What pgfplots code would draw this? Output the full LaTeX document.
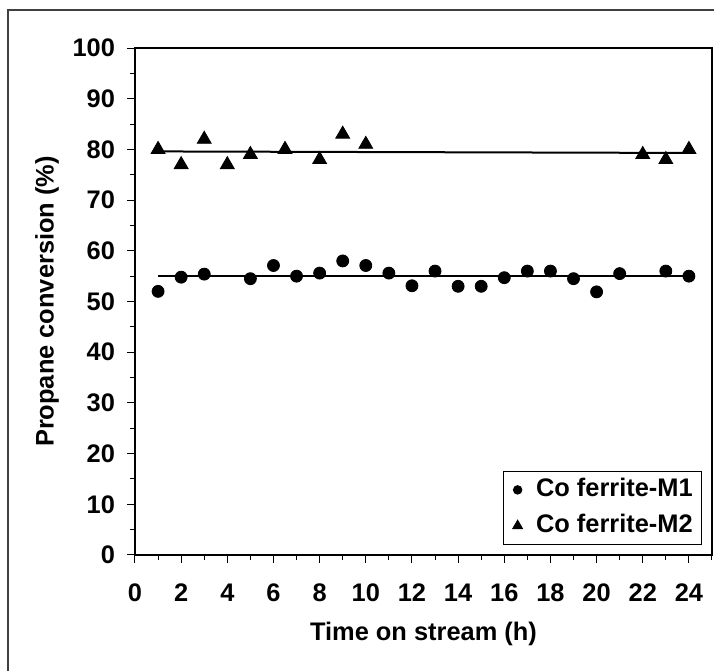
\documentclass[border=0pt]{standalone}
\usepackage{fontspec}
\setmainfont{Liberation Sans}
\usepackage{pgfplots}
\pgfplotsset{compat=1.18}
\newcommand\lbl{\bfseries\fontsize{12.7pt}{15pt}\selectfont}

\begin{document}
\begin{tikzpicture}[font=\lbl]
\useasboundingbox (-67.5pt,-58pt) rectangle (289.5pt,277.5pt);
\draw[black!75, line width=0.7pt] (-63.5pt,-80pt) rectangle (300pt,272.5pt);
\begin{axis}[
  at={(0,0)}, anchor=south west,
  scale only axis,
  width=288.5pt, height=253.5pt,
  xmin=0, xmax=25, ymin=0, ymax=100,
  xtick={0,2,...,24}, minor xtick={1,3,...,25},
  ytick={0,10,...,100}, minor ytick={5,15,...,95},
  xticklabels={0,2,4,6,8,10,12,14,16,18,20,22,24},
  yticklabels={0,10,20,30,40,50,60,70,80,90,100},
  tick align=outside,
  major tick length=4pt, minor tick length=2.5pt,
  xtick pos=bottom, ytick pos=left,
  axis line style={line width=0.6pt},
  every tick/.style={black, line width=0.5pt},
  tick label style={font=\lbl},
  xticklabel style={yshift=-7pt},
  yticklabel style={xshift=-2.5pt},
  xlabel={Time on stream (h)},
  ylabel={Propane conversion (\%)},
  label style={font=\lbl},
  xlabel style={at={(axis description cs:0.5,0)}, anchor=center, yshift=-39.5pt},
  ylabel style={at={(axis description cs:0,0.5)}, anchor=center, yshift=44pt},
  legend style={at={(axis cs:25,0)}, anchor=south east, xshift=-5.2pt, yshift=5pt,
    draw=black, line width=0.5pt, font=\lbl,
    inner xsep=1pt, inner ysep=0.3pt, row sep=0pt,
    nodes={inner xsep=3.2pt, inner ysep=3pt, text height=9.5pt, text depth=2.5pt},
    /tikz/every odd column/.append style={column sep=0pt}},
  legend image code/.code={
    \draw[#1, every mark/.append style={scale=0.7}] plot coordinates {(0pt,0pt)};
    \path[draw=none, fill=none] (-6pt,-3pt) rectangle (6pt,3pt);},
  legend cell align=left,
]
\addplot[only marks, mark=*, mark size=3pt, black] coordinates {
(1,52.0) (2,54.8) (3,55.4) (5,54.5) (6,57.1) (7,55.0) (8,55.6) (9,58.0)
(10,57.1) (11,55.6) (12,53.1) (13,56.0) (14,53.0) (15,53.0) (16,54.7)
(17,56.0) (18,56.0) (19,54.5) (20,51.9) (21,55.5) (23,56.0) (24,55.0)};
\addlegendentry{Co ferrite-M1}
\addplot[only marks, mark=triangle*, mark size=4pt, black] coordinates {
(1,80) (2,77) (3,82) (4,77) (5,79) (6.5,80) (8,78) (9,83) (10,81)
(22,79) (23,78) (24,80)};
\addlegendentry{Co ferrite-M2}
\addplot[black, line width=1pt, forget plot] coordinates {(1,55.0) (24,55.0)};
\addplot[black, line width=1pt, forget plot] coordinates {(1,79.6) (24,79.3)};
\end{axis}
\end{tikzpicture}
\end{document}
